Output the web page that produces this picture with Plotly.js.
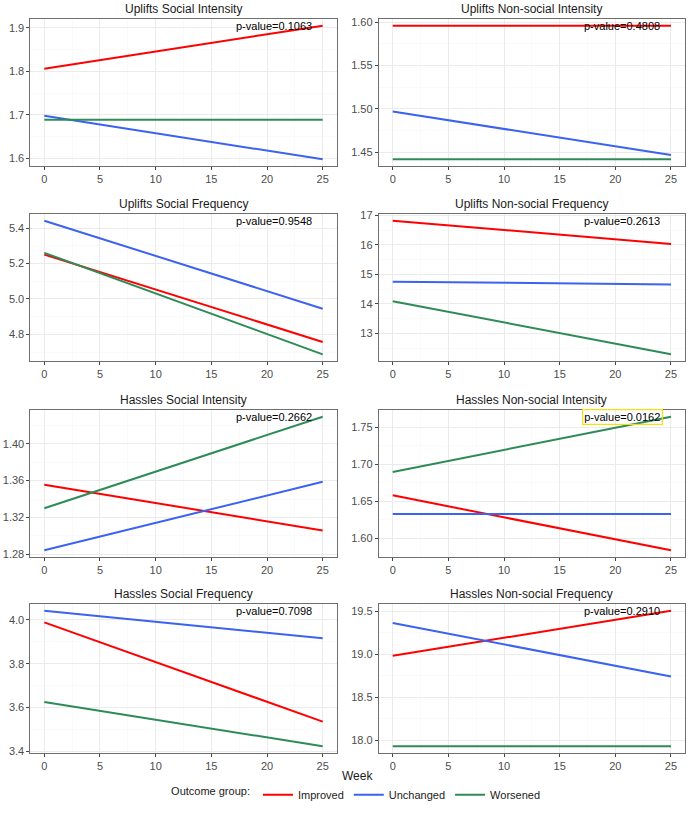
<!DOCTYPE html>
<html>
<head>
<meta charset="utf-8">
<script src="https://cdn.plot.ly/plotly-3.0.1.min.js"></script>
<style>
  html, body { margin: 0; padding: 0; background: #fff; }
  #chart { width: 688px; height: 816px; }
</style>
</head>
<body>
<div id="chart"></div>
<script>
// values (fitted lines at week 0 and week 25)
const weeks = [0, 25];
const panelTitles = [
  'Uplifts Social Intensity', 'Uplifts Non-social Intensity',
  'Uplifts Social Frequency', 'Uplifts Non-social Frequency',
  'Hassles Social Intensity', 'Hassles Non-social Intensity',
  'Hassles Social Frequency', 'Hassles Non-social Frequency'
];
const pValues = ['0.1063', '0.4808', '0.9548', '0.2613', '0.2662', '0.0162', '0.7098', '0.2910'];
const groups = ['Improved', 'Unchanged', 'Worsened'];
const improved  = [[1.806, 1.905], [1.596, 1.596], [5.251, 4.757], [16.82, 16.03],
                   [1.3555, 1.306], [1.658, 1.584], [3.988, 3.536], [18.983, 19.508]];
const unchanged = [[1.698, 1.598], [1.497, 1.447], [5.443, 4.945], [14.75, 14.66],
                   [1.2844, 1.3588], [1.633, 1.633], [4.041, 3.916], [19.366, 18.742]];
const worsened  = [[1.689, 1.689], [1.442, 1.442], [5.261, 4.687], [14.09, 12.29],
                   [1.330, 1.4294], [1.6894, 1.7639], [3.625, 3.424], [17.929, 17.929]];
const yTickStep = [0.1, 0.05, 0.2, 1, 0.04, 0.05, 0.2, 0.5];
const yTickFormat = ['.1f', '.2f', '.1f', 'd', '.2f', '.2f', '.1f', '.1f'];

const colors = ['#ff0000', '#3b62f0', '#2e8b57'];
const W = 688, H = 816;

// panel boxes in pixels: [left, right] columns and [top, bottom] rows
const cols = [[30.4, 336.6], [378.8, 684.9]];
const rows = [[19, 166], [214, 361], [410, 557], [604, 753]];

const traces = [];
const layout = {
  width: W, height: H,
  margin: {l: 0, r: 0, t: 0, b: 0},
  paper_bgcolor: '#fff',
  plot_bgcolor: '#fff',
  font: {family: 'Liberation Sans, Arial, sans-serif', color: '#1a1a1a'},
  showlegend: true,
  legend: {
    orientation: 'h',
    x: 0.519, xanchor: 'center',
    y: 0.026, yanchor: 'middle',
    title: {text: 'Outcome group:', side: 'left', font: {size: 11, color: '#1a1a1a'}},
    font: {size: 11, color: '#1a1a1a'},
    itemwidth: 30,
    tracegroupgap: 0
  },
  annotations: [],
  shapes: []
};

const series = [improved, unchanged, worsened];

for (let i = 0; i < 8; i++) {
  const n = i + 1;
  const sfx = n === 1 ? '' : String(n);
  const col = cols[i % 2];
  const row = rows[Math.floor(i / 2)];

  // y range: data range expanded by 5% each side (ggplot default)
  const vals = series.flatMap(s => s[i]);
  const lo = Math.min(...vals), hi = Math.max(...vals);
  const pad = (hi - lo) * 0.05;

  series.forEach((s, g) => {
    traces.push({
      x: weeks,
      y: s[i],
      type: 'scatter',
      mode: 'lines',
      name: groups[g],
      legendgroup: groups[g],
      showlegend: i === 0,
      line: {color: colors[g], width: 2},
      xaxis: 'x' + sfx,
      yaxis: 'y' + sfx,
      hoverinfo: 'skip'
    });
  });

  layout['xaxis' + sfx] = {
    domain: [col[0] / W, col[1] / W],
    anchor: 'y' + sfx,
    range: [-1.25, 26.25],
    tick0: 0, dtick: 5,
    showgrid: true, gridcolor: '#ebebeb', gridwidth: 1,
    minor: {dtick: 2.5, showgrid: true, gridcolor: '#f5f5f5', gridwidth: 0.5},
    zeroline: false,
    showline: true, mirror: true, linecolor: '#6e6e6e', linewidth: 1,
    ticks: 'outside', ticklen: 3, tickcolor: '#444',
    tickfont: {size: 11, color: '#4d4d4d'},
    fixedrange: true
  };
  layout['yaxis' + sfx] = {
    domain: [(H - row[1]) / H, (H - row[0]) / H],
    anchor: 'x' + sfx,
    range: [lo - pad, hi + pad],
    tick0: 0, dtick: yTickStep[i],
    tickformat: yTickFormat[i],
    showgrid: true, gridcolor: '#ebebeb', gridwidth: 1,
    minor: {dtick: yTickStep[i] / 2, showgrid: true, gridcolor: '#f5f5f5', gridwidth: 0.5},
    zeroline: false,
    showline: true, mirror: true, linecolor: '#6e6e6e', linewidth: 1,
    ticks: 'outside', ticklen: 3, tickcolor: '#444',
    tickfont: {size: 11, color: '#4d4d4d'},
    fixedrange: true
  };

  // panel title
  layout.annotations.push({
    text: panelTitles[i],
    xref: 'x' + sfx + ' domain', yref: 'y' + sfx + ' domain',
    x: 0.5, y: 1, yanchor: 'bottom', yshift: 1,
    showarrow: false,
    font: {size: 12, color: '#1a1a1a'}
  });

  // p-value label (highlighted box on the significant one)
  const hl = i === 5;
  layout.annotations.push({
    text: 'p-value=' + pValues[i],
    xref: 'x' + sfx, yref: 'y' + sfx + ' domain',
    x: 20.6, y: 0.955, xanchor: 'center', yanchor: 'middle',
    showarrow: false,
    font: {size: 11, color: '#000'},
    bordercolor: hl ? '#f5e10a' : 'rgba(0,0,0,0)',
    borderwidth: hl ? 1.2 : 0,
    borderpad: 1
  });
}

layout.annotations.push({
  text: 'Week',
  xref: 'paper', yref: 'paper',
  x: 0.519, y: (H - 776) / H, xanchor: 'center', yanchor: 'middle',
  showarrow: false,
  font: {size: 12, color: '#1a1a1a'}
});

Plotly.newPlot('chart', traces, layout, {displayModeBar: false, staticPlot: true});
</script>
</body>
</html>
